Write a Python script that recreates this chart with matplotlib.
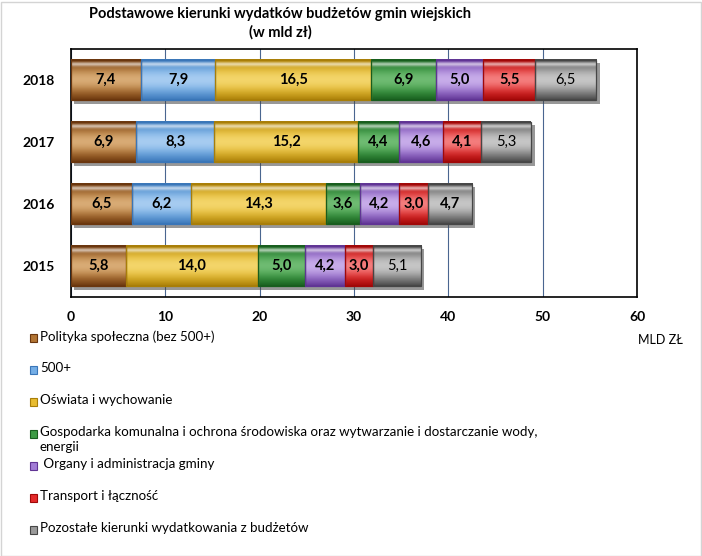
import numpy as np
import matplotlib
matplotlib.use("Agg")
import matplotlib.pyplot as plt
from matplotlib.patches import Rectangle
from matplotlib import patheffects as pe
from matplotlib.colors import to_rgb

plt.rcParams['font.family'] = ['Lato', 'DejaVu Sans']

years = ['2015', '2016', '2017', '2018']
polityka = [5.8, 6.5, 6.9, 7.4]
p500 = [0.0, 6.2, 8.3, 7.9]
oswiata = [14.0, 14.3, 15.2, 16.5]
gospodarka = [5.0, 3.6, 4.4, 6.9]
organy = [4.2, 4.2, 4.6, 5.0]
transport = [3.0, 3.0, 4.1, 5.5]
pozostale = [5.1, 4.7, 5.3, 6.5]

series_names = [
    'Polityka społeczna (bez 500+)',
    '500+',
    'Oświata i wychowanie',
    'Gospodarka komunalna i ochrona środowiska oraz wytwarzanie i dostarczanie wody,\nenergii',
    ' Organy i administracja gminy',
    'Transport i łączność',
    'Pozostałe kierunki wydatkowania z budżetów',
]
series_values = [polityka, p500, oswiata, gospodarka, organy, transport, pozostale]
xticks = [0, 10, 20, 30, 40, 50, 60]

# (dark, mid, light)
palettes = [
    ('#6a360e', '#b27534', '#f2cfa0'),
    ('#3a76b8', '#74aee6', '#c8e0f8'),
    ('#a87e08', '#e8bc30', '#fbe690'),
    ('#185e1e', '#3c9c44', '#90d090'),
    ('#603494', '#a27cd6', '#e0ccf6'),
    ('#a00808', '#e42a2a', '#ffb4b4'),
    ('#464646', '#9a9a9a', '#e2e2e2'),
]
bold_gray = [False, True, False, False]


def gradient_img(dark, mid, light, n=64):
    d, m, l = np.array(to_rgb(dark)), np.array(to_rgb(mid)), np.array(to_rgb(light))
    t = np.linspace(0, 1, n)
    img = np.zeros((n, 2, 3))
    for i, tt in enumerate(t):
        f = np.sin(np.pi * tt) ** 0.8
        c = d * (1 - f) + m * f
        g = f ** 4
        c = c * (1 - 0.6 * g) + l * 0.6 * g
        hl = np.exp(-((tt - 0.88) / 0.05) ** 2)
        c = c * (1 - 0.6 * hl) + np.array([1, 1, 1]) * 0.6 * hl
        img[i, :] = np.clip(c, 0, 1)
    return img


fig = plt.figure(figsize=(7.02, 5.56), dpi=100)
ax = fig.add_axes([71 / 702, 1 - 297 / 556, 566 / 702, 248 / 556])

ypos = np.arange(len(years))
left = np.zeros(len(years))
bar_h = 0.65
for si, (vals, pal) in enumerate(zip(series_values, palettes)):
    bars = ax.barh(ypos, vals, left=left, height=bar_h, color=pal[1],
                   edgecolor='none', linewidth=0, zorder=3,
                   path_effects=[pe.SimplePatchShadow(offset=(2.5, -2.5), alpha=0.55,
                                                      shadow_rgbFace='#444444'),
                                 pe.Normal()])
    img = gradient_img(*pal)
    for yi, (b, v) in enumerate(zip(bars, vals)):
        if v <= 0:
            continue
        x0, y0, w, h = b.get_x(), b.get_y(), b.get_width(), b.get_height()
        ax.imshow(img, extent=[x0, x0 + w, y0, y0 + h], origin='lower',
                  aspect='auto', zorder=4, interpolation='bilinear')
        ax.add_patch(Rectangle((x0, y0), w, h, fill=False, edgecolor=pal[0],
                               linewidth=0.9, zorder=4.5))
        weight = 'bold'
        if si == 6 and not bold_gray[yi]:
            weight = 'normal'
        ax.text(x0 + w / 2, y0 + h / 2, f'{v:.1f}'.replace('.', ','),
                ha='center', va='center', fontsize=10.5, fontweight=weight,
                color='black', zorder=5)
    left = left + np.array(vals)

ax.set_xlim(0, 60)
ax.set_ylim(-0.5, len(years) - 0.5)
ax.set_aspect('auto')
ax.set_xticks(xticks)
ax.set_xticklabels([str(t) for t in xticks], fontsize=10, fontweight='bold')
ax.set_yticks(ypos)
ax.set_yticklabels(years, fontsize=10, fontweight='bold')
ax.tick_params(axis='x', length=0, pad=10)
ax.tick_params(axis='y', length=0, pad=12)
ax.grid(axis='x', color='#4a6690', linewidth=0.8, zorder=0)
ax.set_axisbelow(True)
for s in ax.spines.values():
    s.set_color('black')
    s.set_linewidth(1.2)

fig.text(280 / 702, 1 - 14 / 556, 'Podstawowe kierunki wydatków budżetów gmin wiejskich',
         ha='center', va='center', fontsize=10.5, fontweight='bold')
fig.text(280 / 702, 1 - 32 / 556, '(w mld zł)', ha='center', va='center',
         fontsize=10.5, fontweight='bold')

fig.text(660 / 702, 1 - 340 / 556, 'MLD ZŁ', ha='center', va='center', fontsize=9)

leg_y = [338, 370, 402, 434, 466, 498, 530]
for name, pal, yy in zip(series_names, palettes, leg_y):
    r = Rectangle((30 / 702, 1 - (yy + 4) / 556), 7 / 702, 8 / 556,
                  transform=fig.transFigure, facecolor=pal[1], edgecolor=pal[0],
                  linewidth=0.8)
    fig.patches.append(r)
    fig.text(40 / 702, 1 - (yy - 8) / 556, name, ha='left', va='top',
             fontsize=9.6, linespacing=1.3)

frame = Rectangle((0.5 / 702, 0.5 / 556), 700 / 702, 554 / 556, transform=fig.transFigure,
                  fill=False, edgecolor='#d4d4d4', linewidth=1)
fig.patches.append(frame)

fig.savefig('out.png', dpi=100, facecolor='white')
